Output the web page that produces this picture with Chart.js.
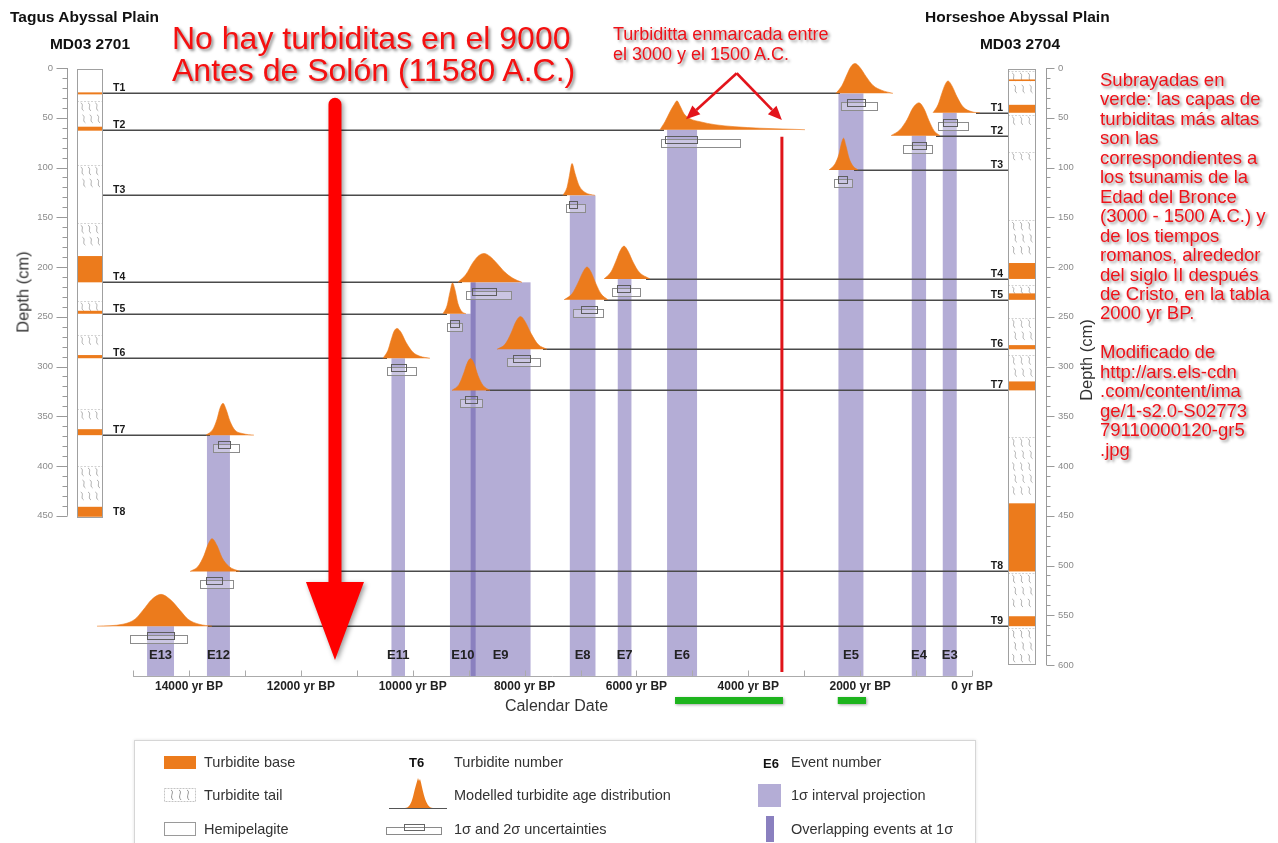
<!DOCTYPE html>
<html>
<head>
<meta charset="utf-8">
<script src="https://cdn.jsdelivr.net/npm/chart.js@4.4.1/dist/chart.umd.min.js"></script>
<style>
  html, body { margin: 0; padding: 0; background: #fff; }
  #wrap { position: relative; width: 1278px; height: 843px; overflow: hidden;
          font-family: 'Liberation Sans', Arial, Helvetica, sans-serif; }
  #c { position: absolute; left: 0; top: 0; }
  .t { position: absolute; white-space: pre; }
  .head { font-weight: bold; font-size: 15.5px; line-height: 18px; color: #111; }
  .red { color: #ee1219; text-shadow: 2px 2px 3px rgba(0,0,0,0.45); }
  .big { font-size: 32px; line-height: 32px; color: #f51010; }
  .mid { font-size: 18px; line-height: 20px; }
  .note { font-size: 18.5px; line-height: 19.45px; }
  .ytitle { font-size: 16.5px; color: #333; transform: translate(-50%, -50%) rotate(-90deg); }
  #legend { position: absolute; left: 134px; top: 740px; width: 840px; height: 120px;
            border: 1px solid #d6d6d6; box-shadow: 0 0 3px rgba(0,0,0,0.12); }
  #legend .t { font-size: 14.5px; line-height: 18px; color: #333; }
  #legend .b { font-weight: bold; font-size: 13px; color: #111; }
</style>
</head>
<body>
<div id="wrap">
  <canvas id="c" width="1278" height="843"></canvas>

  <div class="t head" style="left:10px; top:8px;">Tagus Abyssal Plain</div>
  <div class="t head" style="left:90px; top:35px; transform:translateX(-50%);">MD03 2701</div>
  <div class="t head" style="left:925px; top:8px;">Horseshoe Abyssal Plain</div>
  <div class="t head" style="left:1020px; top:35px; transform:translateX(-50%);">MD03 2704</div>

  <div class="t ytitle" style="left:23px; top:292px;">Depth (cm)</div>
  <div class="t ytitle" style="left:1086px; top:360px;">Depth (cm)</div>

  <div class="t red big" style="left:172px; top:22px;">No hay turbiditas en el 9000
Antes de Solón (11580 A.C.)</div>

  <div class="t red mid" style="left:613px; top:24px;">Turbiditta enmarcada entre
el 3000 y el 1500 A.C.</div>

  <div class="t red note" style="left:1100px; top:70px;">Subrayadas en
verde: las capas de
turbiditas más altas
son las
correspondientes a
los tsunamis de la
Edad del Bronce
(3000 - 1500 A.C.) y
de los tiempos
romanos, alrededor
del siglo II después
de Cristo, en la tabla
2000 yr BP.

Modificado de
http://ars.els-cdn
.com/content/ima
ge/1-s2.0-S02773
79110000120-gr5
.jpg</div>

  <div id="legend">
    <div style="position:absolute; left:29px; top:15px; width:32px; height:13px; background:#ec7b1c;"></div>
    <div class="t" style="left:69px; top:12px;">Turbidite base</div>
    <svg style="position:absolute; left:29px; top:47px;" width="32" height="14">
      <rect x="0.5" y="0.5" width="31" height="13" fill="#fff" stroke="#c4c4c4" stroke-dasharray="2,1"/>
      <path d="M7 2 C11 4,5 8,9 12 M15 2 C19 4,13 8,17 12 M23 2 C27 4,21 8,25 12" stroke="#8a8a8a" fill="none" stroke-width="0.9"/>
    </svg>
    <div class="t" style="left:69px; top:45px;">Turbidite tail</div>
    <div style="position:absolute; left:29px; top:81px; width:30px; height:12px; background:#fff; border:1px solid #9a9a9a;"></div>
    <div class="t" style="left:69px; top:79px;">Hemipelagite</div>

    <div class="t b" style="left:274px; top:13px;">T6</div>
    <div class="t" style="left:319px; top:12px;">Turbidite number</div>
    <svg style="position:absolute; left:252px; top:34px;" width="62" height="36">
      <path d="M4 33 L18 33 C25 33,26 20,29 10 L31 3 L32 6 L33 4 C36 14,38 33,46 33 L58 33 Z" fill="#ec7b1c"/>
      <line x1="2" y1="33.5" x2="60" y2="33.5" stroke="#555" stroke-width="1"/>
    </svg>
    <div class="t" style="left:319px; top:45px;">Modelled turbidite age distribution</div>
    <svg style="position:absolute; left:250px; top:81px;" width="60" height="14">
      <rect x="1.5" y="5.5" width="55" height="7" fill="#fff" stroke="#8a8a8a"/>
      <rect x="19.5" y="2.5" width="20" height="6" fill="none" stroke="#666"/>
    </svg>
    <div class="t" style="left:319px; top:79px;">1σ and 2σ uncertainties</div>

    <div class="t b" style="left:628px; top:14px;">E6</div>
    <div class="t" style="left:656px; top:12px;">Event number</div>
    <div style="position:absolute; left:623px; top:43px; width:23px; height:23px; background:#b4add6;"></div>
    <div class="t" style="left:656px; top:45px;">1σ interval projection</div>
    <div style="position:absolute; left:631px; top:75px; width:8px; height:26px; background:#8a80bf;"></div>
    <div class="t" style="left:656px; top:79px;">Overlapping events at 1σ</div>
  </div>
</div>

<script>
// ---- calendar axis (years before present) ----
const dateTicks = [15000, 14000, 13000, 12000, 11000, 10000, 9000, 8000, 7000, 6000, 5000, 4000, 3000, 2000, 1000, 0];
const dateLabelYears = [14000, 12000, 10000, 8000, 6000, 4000, 2000, 0];
const dateLabels = ['14000 yr BP', '12000 yr BP', '10000 yr BP', '8000 yr BP', '6000 yr BP', '4000 yr BP', '2000 yr BP', '0 yr BP'];

// ---- depth axes of the two cores (cm) ----
const tagusDepthLabels = [0, 50, 100, 150, 200, 250, 300, 350, 400, 450];
const horseDepthLabels = [0, 50, 100, 150, 200, 250, 300, 350, 400, 450, 500, 550, 600];
const tagusCoreLength = 451;
const horseCoreLength = 599;

// ---- core MD03 2701 (Tagus Abyssal Plain), intervals in cm ----
const tagusBase = [[24.5, 26.5], [59, 63], [189, 215.4], [244, 247], [288.5, 291.7], [363, 369], [441, 451]];
const tagusTail = [[33, 59], [97.5, 128], [156, 189], [234, 244], [268, 288.5], [343, 363], [400, 441]];
const tagusTurbidites = ['T1', 'T2', 'T3', 'T4', 'T5', 'T6', 'T7', 'T8'];
const tagusDepths = [25.5, 62, 128, 215.4, 247, 291.7, 369, 451];

// ---- core MD03 2704 (Horseshoe Abyssal Plain), intervals in cm ----
const horseBase = [[11.5, 13], [37, 45], [196, 212], [226.5, 233], [278.5, 282.7], [315, 324], [437.5, 506], [551, 561]];
const horseTail = [[3, 37], [47, 59], [84, 92.5], [153, 196], [218, 226.5], [251, 278.5], [288, 315], [370.5, 437.5], [507.5, 551], [563, 598]];
const horseTurbidites = ['T1', 'T2', 'T3', 'T4', 'T5', 'T6', 'T7', 'T8', 'T9'];
const horseDepths = [45, 68, 102.5, 212, 233, 282.7, 324, 506, 561];

// ---- events: 1σ interval projections (yr BP) ----
const eventNames = ['E13', 'E12', 'E11', 'E10', 'E9', 'E8', 'E7', 'E6', 'E5', 'E4', 'E3'];
const eventOneSigma = [[14750, 14268], [13679, 13268], [10380, 10138], [9334, 8875], [8964, 7893],
                       [7191, 6732], [6334, 6089], [5452, 4916], [2388, 1941], [1077, 821], [523, 273]];
const eventTopDepth = [561, 369, 291.7, 247, 215.4, 128, 212, 62, 25.5, 68, 45];
const overlapOneSigma = [[8964, 8875]];
const overlapTopDepth = [215.4];
const projectionBottom = 611;

// ---- modelled turbidite age distributions: [yr BP, height] ----
const distE13  = [[15645, 0], [15180, 2], [14966, 7], [14823, 16], [14662, 27], [14501, 32], [14340, 27], [14161, 16], [14018, 7], [13821, 2], [13589, 0]];
const distE12a = [[13696, 0], [13571, 6], [13499, 16], [13446, 27], [13392, 32], [13338, 26], [13267, 14], [13178, 5], [13035, 1.5], [12838, 0]];
const distE12b = [[13982, 0], [13839, 5], [13732, 16], [13660, 27], [13589, 33], [13499, 26], [13410, 14], [13285, 5], [13088, 0]];
const distE11  = [[10531, 0], [10442, 8], [10388, 18], [10335, 27], [10281, 30], [10209, 26], [10120, 16], [9995, 6], [9870, 2], [9691, 0]];
const distE10a = [[9459, 0], [9387, 8], [9333, 22], [9289, 31], [9244, 24], [9190, 10], [9119, 2], [9047, 0]];
const distE10b = [[9298, 0], [9172, 6], [9083, 18], [9029, 27], [8967, 32], [8904, 27], [8833, 15], [8743, 5], [8618, 0]];
const distE9a  = [[9190, 0], [9047, 8], [8922, 20], [8815, 27], [8725, 29], [8618, 26], [8493, 19], [8350, 10], [8207, 4], [8046, 0]];
const distE9b  = [[8493, 0], [8350, 5], [8243, 16], [8153, 28], [8073, 33], [7992, 28], [7885, 16], [7760, 5], [7599, 0]];
const distE8a  = [[7313, 0], [7241, 8], [7197, 20], [7152, 32], [7098, 22], [7027, 10], [6920, 3], [6741, 0]];
const distE8b  = [[7295, 0], [7152, 6], [7045, 17], [6955, 28], [6884, 33], [6812, 28], [6723, 16], [6633, 6], [6508, 0]];
const distE7   = [[6580, 0], [6455, 7], [6365, 18], [6294, 28], [6222, 33], [6151, 28], [6061, 17], [5954, 7], [5757, 0]];
const distE6   = [[5579, 0], [5489, 8], [5400, 18], [5328, 25], [5275, 29], [5221, 24], [5149, 16], [5042, 11], [4863, 8], [4595, 5], [4238, 3], [3791, 1.5], [3254, 0.5], [2986, 0]];
const distE5a  = [[2432, 0], [2324, 8], [2235, 19], [2163, 27], [2092, 30], [2003, 26], [1895, 17], [1770, 8], [1609, 3], [1413, 0]];
const distE5b  = [[2557, 0], [2450, 6], [2378, 16], [2333, 27], [2298, 32], [2253, 24], [2199, 12], [2128, 4], [2038, 0]];
const distE4   = [[1448, 0], [1287, 6], [1162, 16], [1055, 28], [948, 33], [858, 27], [769, 15], [679, 5], [572, 0]];
const distE3   = [[697, 0], [608, 8], [536, 20], [483, 28], [429, 32], [358, 27], [268, 16], [161, 6], [0, 1], [-143, 0]];

const distProfiles = [distE13, distE12a, distE12b, distE11, distE10a, distE10b, distE9a, distE9b,
                      distE8a, distE8b, distE7, distE6, distE5a, distE5b, distE4, distE3];
// which core ('T' Tagus, 'H' Horseshoe) and turbidite index each distribution dates
const distCore = ['H', 'T', 'H', 'T', 'T', 'H', 'T', 'H', 'T', 'H', 'H', 'T', 'T', 'H', 'H', 'H'];
const distTurbidite = [8, 6, 7, 5, 4, 6, 3, 5, 2, 4, 3, 1, 0, 2, 1, 0];
// 1σ and 2σ age ranges (yr BP)
const dist2Sigma = [[15054, 14036], [13571, 13107], [13804, 13220], [10464, 9946], [9380, 9113], [9161, 8768], [9054, 8250], [8321, 7727],
                    [7268, 6911], [7130, 6589], [6429, 5929], [5554, 4143], [2345, 1702], [2464, 2148], [1238, 720], [602, 77]];
const dist1Sigma = [[14750, 14268], [13482, 13268], [13696, 13416], [10380, 10125], [9334, 9173], [9071, 8857], [8934, 8518], [8202, 7905],
                    [7209, 7059], [7000, 6702], [6339, 6107], [5482, 4916], [2238, 1911], [2388, 2238], [1077, 821], [512, 262]];

// ---- annotations ----
const noTurbiditeYear = 11390;          // big arrow
const noTurbiditeDepths = [30, 595];
const markerYear = 3399;                // red vertical marker
const markerDepths = [69, 607];
const calloutStart = [4207, 5.3];
const calloutEnds = [[5114, 51.6], [3399, 52.3]];
const highlightRanges = [[5310, 3380], [2400, 1895]];  // green underline

// ---- layout and styling ----
const ORANGE = '#ec7b1c';
const LAVENDER = '#b4add6';
const OVERLAP = '#8a80bf';
const LINK = '#4a4a4a';
const AREA = { left: 67, right: 1046, top: 50, bottom: 676 };
const PX_PER_YEAR = 783 / 14000;
const YEAR0_PX = 972;
const X_MAX = (YEAR0_PX - AREA.left) / PX_PER_YEAR;
const X_MIN = (YEAR0_PX - AREA.right) / PX_PER_YEAR;
const DEPTH0_PX = 68, PX_PER_CM = 0.995;
const Y_MIN = (AREA.top - DEPTH0_PX) / PX_PER_CM;
const Y_MAX = (AREA.bottom - DEPTH0_PX) / PX_PER_CM;
const TAGUS_COL = [77, 103];
const HORSE_COL = [1008, 1036];
const FONT = "'Liberation Sans', Arial, Helvetica, sans-serif";

function baseDepth(i) {
  return distCore[i] === 'T' ? tagusDepths[distTurbidite[i]] : horseDepths[distTurbidite[i]];
}

const datasets = distProfiles.map((pts, i) => {
  const base = baseDepth(i);
  return {
    data: pts.map(p => ({ x: p[0], y: base - p[1] })),
    fill: { value: base },
    backgroundColor: ORANGE,
    borderColor: ORANGE,
    borderWidth: 0.6,
    pointRadius: 0,
    cubicInterpolationMode: 'monotone',
    clip: false,
    yAxisID: 'yL'
  };
});

function hRect(ctx, xs, ys, fill) {
  const x0 = Math.min(xs[0], xs[1]), x1 = Math.max(xs[0], xs[1]);
  const y0 = Math.min(ys[0], ys[1]), y1 = Math.max(ys[0], ys[1]);
  ctx.fillStyle = fill;
  ctx.fillRect(x0, y0, x1 - x0, y1 - y0);
}

function squiggles(ctx, x1, x2, yTop, yBot) {
  ctx.strokeStyle = '#9c9c9c';
  ctx.lineWidth = 0.8;
  const cols = [0.22, 0.5, 0.78];
  const h = Math.min(8, yBot - yTop - 2);
  if (h < 3) return;
  let row = 0;
  for (let yy = yTop + 2; yy + h <= yBot; yy += 12, row++) {
    cols.forEach(c => {
      const cx = x1 + (x2 - x1) * c + (row % 2 ? 1.2 : -0.5);
      ctx.beginPath();
      ctx.moveTo(cx - 1.5, yy);
      ctx.bezierCurveTo(cx + 2.5, yy + h * 0.25, cx - 2.5, yy + h * 0.7, cx + 1.5, yy + h);
      ctx.stroke();
    });
  }
}

function drawCore(ctx, y, col, length, bases, tails) {
  const [x1, x2] = col;
  const top = y.getPixelForValue(1), bot = y.getPixelForValue(length);
  ctx.fillStyle = '#fff';
  ctx.fillRect(x1, top, x2 - x1, bot - top);
  tails.forEach(([a, b]) => {
    const ya = y.getPixelForValue(a), yb = y.getPixelForValue(b);
    ctx.save();
    ctx.strokeStyle = '#c8c8c8';
    ctx.lineWidth = 0.8;
    ctx.setLineDash([2, 1.5]);
    ctx.beginPath(); ctx.moveTo(x1, Math.round(ya) + 0.5); ctx.lineTo(x2, Math.round(ya) + 0.5); ctx.stroke();
    ctx.restore();
    squiggles(ctx, x1, x2, ya, yb);
  });
  bases.forEach(([a, b]) => {
    const ya = y.getPixelForValue(a), yb = y.getPixelForValue(b);
    hRect(ctx, [x1, x2], [ya, Math.max(yb, ya + 1.6)], ORANGE);
  });
  ctx.strokeStyle = '#a0a0a0';
  ctx.lineWidth = 1;
  ctx.strokeRect(x1 + 0.5, Math.round(top) + 0.5, x2 - x1 - 1, Math.round(bot - top));
}

function arrowTo(ctx, x0, y0, x1, y1, width, headLen, headHalf) {
  const a = Math.atan2(y1 - y0, x1 - x0);
  const bx = x1 - Math.cos(a) * headLen, by = y1 - Math.sin(a) * headLen;
  ctx.lineWidth = width;
  ctx.beginPath(); ctx.moveTo(x0, y0); ctx.lineTo(bx, by); ctx.stroke();
  ctx.beginPath();
  ctx.moveTo(x1, y1);
  ctx.lineTo(bx + Math.sin(a) * headHalf, by - Math.cos(a) * headHalf);
  ctx.lineTo(bx - Math.sin(a) * headHalf, by + Math.cos(a) * headHalf);
  ctx.closePath(); ctx.fill();
}

const sketch = {
  id: 'sketch',
  beforeDatasetsDraw(chart) {
    const { ctx } = chart;
    const x = chart.scales.x, y = chart.scales.yL;
    ctx.save();
    // 1σ interval projections
    eventOneSigma.forEach((r, i) => {
      hRect(ctx, [x.getPixelForValue(r[0]), x.getPixelForValue(r[1])],
            [y.getPixelForValue(eventTopDepth[i]), y.getPixelForValue(projectionBottom)], LAVENDER);
    });
    overlapOneSigma.forEach((r, i) => {
      hRect(ctx, [x.getPixelForValue(r[0]), x.getPixelForValue(r[1])],
            [y.getPixelForValue(overlapTopDepth[i]), y.getPixelForValue(projectionBottom)], OVERLAP);
    });
    // correlation lines between core turbidites and their age distributions
    ctx.strokeStyle = LINK;
    ctx.lineWidth = 1.4;
    distProfiles.forEach((pts, i) => {
      const py = Math.round(y.getPixelForValue(baseDepth(i))) + 0.2;
      ctx.beginPath();
      if (distCore[i] === 'T') {
        ctx.moveTo(TAGUS_COL[1], py);
        ctx.lineTo(x.getPixelForValue(pts[0][0]) + 4, py);
      } else {
        ctx.moveTo(x.getPixelForValue(pts[pts.length - 1][0]) - 4, py);
        ctx.lineTo(HORSE_COL[0], py);
      }
      ctx.stroke();
    });
    ctx.restore();
  },
  afterDatasetsDraw(chart) {
    const { ctx } = chart;
    const x = chart.scales.x, y = chart.scales.yL;
    ctx.save();

    // 1σ / 2σ uncertainty boxes
    distProfiles.forEach((pts, i) => {
      const by = Math.round(y.getPixelForValue(baseDepth(i)));
      const s2 = dist2Sigma[i], s1 = dist1Sigma[i];
      const a2 = Math.round(x.getPixelForValue(s2[0])) + 0.5, b2 = Math.round(x.getPixelForValue(s2[1])) + 0.5;
      const a1 = Math.round(x.getPixelForValue(s1[0])) + 0.5, b1 = Math.round(x.getPixelForValue(s1[1])) + 0.5;
      ctx.lineWidth = 1;
      ctx.fillStyle = 'rgba(255,255,255,0.3)';
      ctx.fillRect(a2, by + 9.5, b2 - a2, 8);
      ctx.strokeStyle = '#8c8c8c';
      ctx.strokeRect(a2, by + 9.5, b2 - a2, 8);
      ctx.strokeStyle = '#5e5e5e';
      ctx.strokeRect(a1, by + 6.5, b1 - a1, 7);
    });

    // cores
    drawCore(ctx, y, TAGUS_COL, tagusCoreLength, tagusBase, tagusTail);
    drawCore(ctx, y, HORSE_COL, horseCoreLength, horseBase, horseTail);

    // depth axes: lines and tick marks
    ctx.strokeStyle = '#9a9a9a';
    ctx.lineWidth = 1;
    const axL = AREA.left + 0.5, axR = AREA.right + 0.5;
    ctx.beginPath();
    ctx.moveTo(axL, y.getPixelForValue(0)); ctx.lineTo(axL, y.getPixelForValue(tagusDepthLabels[tagusDepthLabels.length - 1]));
    ctx.moveTo(axR, y.getPixelForValue(0)); ctx.lineTo(axR, y.getPixelForValue(horseDepthLabels[horseDepthLabels.length - 1]));
    for (let d = 0; d <= tagusDepthLabels[tagusDepthLabels.length - 1]; d += 10) {
      const py = Math.round(y.getPixelForValue(d)) + 0.5;
      ctx.moveTo(axL, py); ctx.lineTo(axL - (d % 50 === 0 ? 11 : 5), py);
    }
    for (let d = 0; d <= horseDepthLabels[horseDepthLabels.length - 1]; d += 10) {
      const py = Math.round(y.getPixelForValue(d)) + 0.5;
      ctx.moveTo(axR, py); ctx.lineTo(axR + (d % 50 === 0 ? 8 : 4), py);
    }
    ctx.stroke();

    // calendar axis line and tick marks
    ctx.strokeStyle = '#ababab';
    const ay = AREA.bottom + 0.5;
    ctx.beginPath();
    ctx.moveTo(x.getPixelForValue(dateTicks[0]), ay);
    ctx.lineTo(x.getPixelForValue(dateTicks[dateTicks.length - 1]), ay);
    dateTicks.forEach(v => {
      const px = Math.round(x.getPixelForValue(v)) + 0.5;
      ctx.moveTo(px, ay); ctx.lineTo(px, ay - 6);
    });
    ctx.stroke();

    // turbidite numbers
    ctx.fillStyle = '#1a1a1a';
    ctx.font = `bold 10.5px ${FONT}`;
    ctx.textBaseline = 'alphabetic';
    ctx.textAlign = 'left';
    tagusTurbidites.forEach((t, i) => {
      ctx.fillText(t, TAGUS_COL[1] + 10, y.getPixelForValue(tagusDepths[i]) - 2);
    });
    ctx.textAlign = 'right';
    horseTurbidites.forEach((t, i) => {
      ctx.fillText(t, HORSE_COL[0] - 5, y.getPixelForValue(horseDepths[i]) - 2);
    });

    // event numbers
    ctx.font = `bold 13px ${FONT}`;
    ctx.textAlign = 'center';
    ctx.fillStyle = '#222';
    eventNames.forEach((n, i) => {
      const r = eventOneSigma[i];
      ctx.fillText(n, (x.getPixelForValue(r[0]) + x.getPixelForValue(r[1])) / 2, AREA.bottom - 17);
    });

    // red marker line
    ctx.strokeStyle = '#e0141a';
    ctx.lineWidth = 3;
    ctx.beginPath();
    ctx.moveTo(x.getPixelForValue(markerYear), y.getPixelForValue(markerDepths[0]));
    ctx.lineTo(x.getPixelForValue(markerYear), y.getPixelForValue(markerDepths[1]));
    ctx.stroke();

    // callout arrows
    ctx.strokeStyle = '#e3141b';
    ctx.fillStyle = '#e3141b';
    ctx.lineCap = 'butt';
    const sx = x.getPixelForValue(calloutStart[0]), sy = y.getPixelForValue(calloutStart[1]);
    calloutEnds.forEach(([yr, d]) => {
      arrowTo(ctx, sx, sy, x.getPixelForValue(yr), y.getPixelForValue(d), 2.6, 14, 6);
    });

    // big arrow
    ctx.save();
    ctx.shadowColor = 'rgba(0,0,0,0.4)';
    ctx.shadowBlur = 5;
    ctx.shadowOffsetX = 2;
    ctx.shadowOffsetY = 2;
    ctx.fillStyle = '#ff0000';
    const bx = x.getPixelForValue(noTurbiditeYear);
    const top = y.getPixelForValue(noTurbiditeDepths[0]), tip = y.getPixelForValue(noTurbiditeDepths[1]);
    const hw = 6.5, headLen = 78, headHalf = 29;
    ctx.beginPath();
    ctx.moveTo(bx - hw, tip - headLen);
    ctx.lineTo(bx - hw, top + hw);
    ctx.arc(bx, top + hw, hw, Math.PI, 0);
    ctx.lineTo(bx + hw, tip - headLen);
    ctx.lineTo(bx + headHalf, tip - headLen);
    ctx.lineTo(bx, tip);
    ctx.lineTo(bx - headHalf, tip - headLen);
    ctx.closePath();
    ctx.fill();
    ctx.restore();

    // green underline of the highlighted periods
    ctx.save();
    ctx.shadowColor = 'rgba(0,0,0,0.35)';
    ctx.shadowBlur = 3;
    ctx.shadowOffsetX = 1;
    ctx.shadowOffsetY = 1;
    highlightRanges.forEach(r => {
      hRect(ctx, [x.getPixelForValue(r[0]), x.getPixelForValue(r[1])], [AREA.bottom + 21, AREA.bottom + 28], '#1db41d');
    });
    ctx.restore();

    ctx.restore();
  }
};

Chart.defaults.font.family = FONT;

new Chart(document.getElementById('c'), {
  type: 'line',
  data: { datasets },
  options: {
    responsive: false,
    animation: false,
    devicePixelRatio: 1,
    events: [],
    layout: { padding: { left: 0, right: 0, top: AREA.top, bottom: 843 - 718 } },
    plugins: { legend: { display: false }, tooltip: { enabled: false } },
    scales: {
      x: {
        type: 'linear', position: 'bottom', reverse: true, min: X_MIN, max: X_MAX,
        afterFit: s => { s.height = 718 - AREA.bottom; },
        afterBuildTicks: s => { s.ticks = dateTicks.map(v => ({ value: v })); },
        grid: { display: false, drawTicks: false },
        border: { display: false },
        ticks: {
          autoSkip: false, maxRotation: 0, minRotation: 0, padding: 3, color: '#222',
          font: { size: 12, weight: 'bold' },
          callback: v => { const k = dateLabelYears.indexOf(v); return k < 0 ? '' : dateLabels[k]; }
        },
        title: { display: true, text: 'Calendar Date', color: '#333', font: { size: 16 }, padding: { top: 0, bottom: 2 } }
      },
      yL: {
        type: 'linear', position: 'left', reverse: true, min: Y_MIN, max: Y_MAX,
        afterFit: s => { s.width = AREA.left; },
        afterBuildTicks: s => { s.ticks = tagusDepthLabels.map(v => ({ value: v })); },
        grid: { display: false, drawTicks: false },
        border: { display: false },
        ticks: { padding: 14, color: '#8a8a8a', font: { size: 9.5 }, callback: v => String(v) }
      },
      yR: {
        type: 'linear', position: 'right', reverse: true, min: Y_MIN, max: Y_MAX,
        afterFit: s => { s.width = 1278 - AREA.right; },
        afterBuildTicks: s => { s.ticks = horseDepthLabels.map(v => ({ value: v })); },
        grid: { display: false, drawTicks: false },
        border: { display: false },
        ticks: { padding: 12, color: '#8a8a8a', font: { size: 9.5 }, callback: v => String(v) }
      }
    }
  },
  plugins: [sketch]
});
</script>
</body>
</html>
